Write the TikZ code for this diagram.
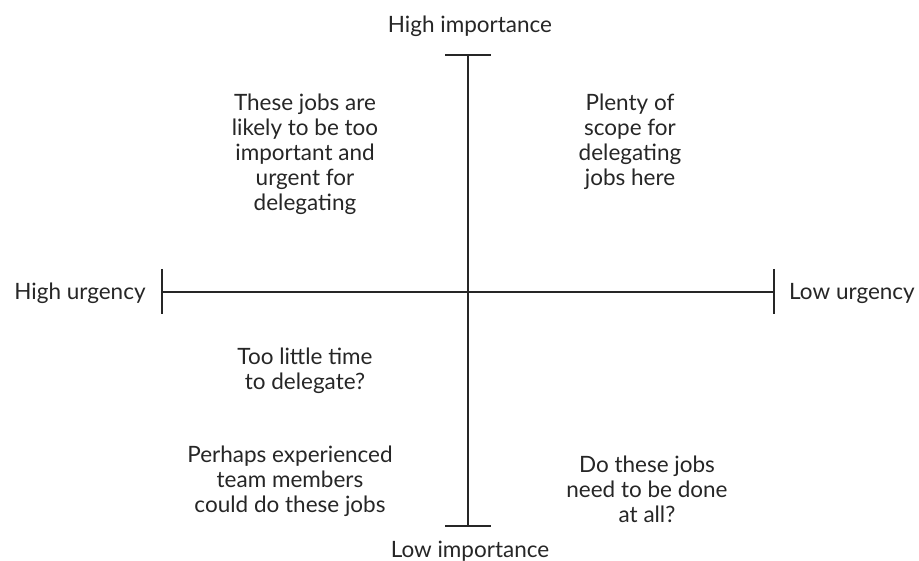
\documentclass[tikz,border=0pt]{standalone}
\usepackage{fontspec}
\setmainfont{Lato}
\usetikzlibrary{calc}
\tikzset{
  axis/.style={line width=1.1pt,draw=black!85},
  lbl/.style={inner sep=0pt,font=\fontsize{22.5}{25}\selectfont,text=black!85},
  quad/.style={lbl,align=center}
}

\begin{document}
\begin{tikzpicture}[x=1pt,y=-1pt]
\useasboundingbox (0,0) rectangle (919,561);
% ends of the two axes
\coordinate (T) at (468,55);
\coordinate (B) at (468,526);
\coordinate (L) at (162,292);
\coordinate (R) at (774,292);
\draw[axis] (T) -- (B);
\draw[axis] (L) -- (R);
\draw[axis] ($(T)+(-23,0)$) -- ($(T)+(23,0)$);
\draw[axis] ($(B)+(-23,0)$) -- ($(B)+(23,0)$);
\draw[axis] ($(L)+(0,-23)$) -- ($(L)+(0,22)$);
\draw[axis] ($(R)+(0,-23)$) -- ($(R)+(0,22)$);
% axis labels
\node[lbl] (hi) at (470,26) {High importance};
\node[lbl] (lo) at (470,551) {Low importance};
\node[lbl] (hu) at (80,293) {High urgency};
\node[lbl] (lu) at (852,293) {Low urgency};
% the four quadrants
\node[quad] (q1) at (305,154) {These jobs are\\likely to be too\\important and\\urgent for\\delegating};
\node[quad] (q2) at (630,142) {Plenty of\\scope for\\delegating\\jobs here};
\node[quad] (q3) at (305,371) {Too little time\\to delegate?};
\node[quad] (q3b) at (290,481) {Perhaps experienced\\team members\\could do these jobs};
\node[quad] (q4) at (647,489) {Do these jobs\\need to be done\\at all?};
\end{tikzpicture}
\end{document}
